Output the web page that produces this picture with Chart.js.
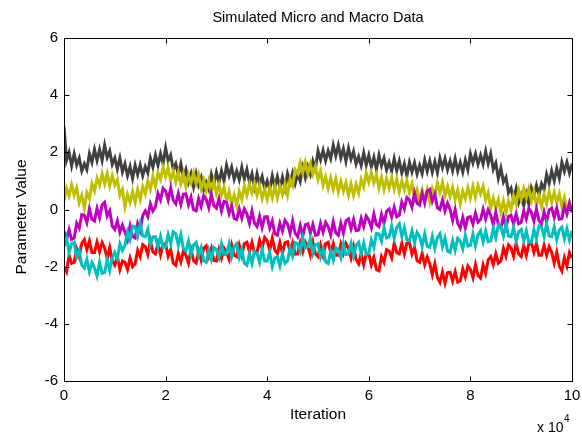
<!DOCTYPE html>
<html>
<head>
<meta charset="utf-8">
<script src="https://cdn.jsdelivr.net/npm/chart.js@4/dist/chart.umd.min.js"></script>
<style>
  body { margin: 0; background: #fff; }
  #wrap { width: 582px; height: 437px; }
</style>
</head>
<body>
<div id="wrap"><canvas id="chart" width="582" height="437"></canvas></div>
<script>
// one sample every 500 iterations, 0 .. 100000
const step = 500

const gray = [
  2.9,1.72,2.0,1.53, 1.95,1.55,1.8,1.35, 1.6,1.4,1.95,1.65, 2.1,1.72,2.1,1.72, 2.25,1.82,2.05,1.58,
  1.8,1.42,1.8,1.32, 1.6,1.18,1.5,1.08, 1.55,1.22,1.55,1.18, 1.5,1.28,1.8,1.48, 1.9,1.55,1.95,1.6,
  2.15,1.7,1.9,1.4, 1.6,1.22,1.6,1.12, 1.4,0.95,1.25,0.8, 1.25,0.86,1.12,0.69, 0.95,0.71,1.23,0.89,
  1.3,0.95,1.35,1.0, 1.55,1.19,1.48,1.06, 1.35,1.04,1.48,1.06, 1.4,0.95,1.25,0.8, 1.25,0.88,1.15,0.73,
  1.0,0.71,1.18,0.79, 1.15,0.76,1.13,0.74, 1.25,0.94,1.28,0.91, 1.25,0.99,1.48,1.11, 1.5,1.23,1.7,1.43,
  2.05,1.74,2.08,1.71, 2.05,1.78,2.25,1.88, 2.25,1.81,2.13,1.69, 2.15,1.76,2.03,1.59, 1.85,1.54,1.98,1.56,
  1.9,1.49,1.83,1.41, 1.9,1.53,1.8,1.38, 1.65,1.34,1.78,1.36, 1.7,1.28,1.6,1.18, 1.65,1.31,1.63,1.24,
  1.55,1.26,1.73,1.34, 1.7,1.31,1.68,1.29, 1.8,1.46,1.78,1.39, 1.7,1.36,1.78,1.34, 1.65,1.31,1.73,1.39,
  1.95,1.63,1.95,1.58, 1.9,1.59,2.03,1.61, 1.95,1.41,1.63,1.09, 1.45,0.96,1.13,0.59, 0.75,0.36,0.73,0.24,
  0.5,0.15,0.55,0.2, 0.75,0.48,0.85,0.53, 0.9,0.69,1.23,0.91, 1.35,1.01,1.43,1.09, 1.65,1.33,1.65,1.28,
  1.6
]

const yellow = [
  0.3,0.74,0.48,0.86, 0.5,0.76,0.23,0.49, 0.05,0.59,0.38,0.91, 0.65,1.1,0.85,1.25, 0.9,1.26,0.83,1.19,
  0.85,1.05,0.5,0.7, 0.1,0.53,0.25,0.63, 0.25,0.7,0.35,0.8, 0.55,1.0,0.7,1.15, 0.8,1.28,1.05,1.48,
  1.15,1.48,1.0,1.33, 0.95,1.3,0.9,1.25, 0.8,1.21,0.93,1.29, 0.9,1.21,0.73,1.04, 0.65,1.01,0.63,0.99,
  0.55,0.88,0.5,0.78, 0.3,0.64,0.18,0.51, 0.15,0.63,0.35,0.83, 0.5,0.89,0.58,0.91, 0.5,0.84,0.38,0.71,
  0.35,0.75,0.4,0.8, 0.4,0.81,0.53,0.89, 0.5,1.06,0.83,1.39, 1.25,1.64,1.28,1.66, 1.25,1.59,1.23,1.51,
  1.05,1.35,0.85,1.15, 0.75,1.11,0.71,1.07, 0.62,0.98,0.64,0.94, 0.5,0.89,0.49,0.88, 0.57,1.05,0.79,1.27,
  0.95,1.29,0.93,1.21, 0.75,1.13,0.7,1.08, 0.75,1.11,0.71,1.07, 0.62,1.0,0.69,1.02, 0.6,0.9,0.39,0.69,
  0.28,0.67,0.3,0.69, 0.27,0.74,0.51,0.93, 0.6,0.94,0.48,0.81, 0.45,0.78,0.35,0.68, 0.2,0.64,0.38,0.76,
  0.4,0.81,0.43,0.84, 0.55,0.81,0.33,0.59, 0.05,0.4,0.05,0.35, -0.1,0.3,-0.1,0.3, 0.0,0.48,0.2,0.68,
  0.35,0.73,0.4,0.73, 0.3,0.63,0.15,0.48, 0.1,0.53,0.2,0.63, 0.25,0.6,0.25,0.55, 0.1,0.42,-0.06,0.25,
  0.0
]

const magenta = [
  -0.75,-1.05,-0.7,-1.05, -1.0,-0.48,-0.65,-0.18, -0.2,-0.46,0.02,-0.34, -0.4,0.04,-0.28,0.16, 0.25,-0.23,-0.05,-0.58,
  -0.7,-0.4,-0.8,-0.55, -0.8,-1.06,-0.58,-0.94, -1.0,-0.49,-0.73,-0.21, -0.05,-0.25,0.2,-0.05, 0.1,0.56,0.33,0.74,
  0.65,0.33,0.75,0.33, 0.2,0.56,0.18,0.54, 0.55,0.16,0.43,-0.01, -0.05,0.38,0.1,0.48, 0.35,0.06,0.53,0.14,
  0.05,0.38,-0.05,0.28, 0.25,-0.14,0.12,-0.31, -0.35,0.02,-0.3,0.02, -0.15,-0.48,-0.05,-0.48, -0.6,-0.24,-0.63,-0.26,
  -0.25,-0.65,-0.4,-0.85, -0.9,-0.48,-0.75,-0.38, -0.5,-0.83,-0.4,-0.83, -0.95,-0.56,-0.93,-0.54, -0.5,-0.83,-0.52,-0.9,
  -0.88,-0.49,-0.79,-0.45, -0.6,-0.89,-0.43,-0.81, -0.9,-0.48,-0.82,-0.4, -0.33,-0.67,-0.35,-0.74, -0.72,-0.31,-0.6,-0.23,
  -0.37,-0.64,-0.16,-0.53, -0.6,-0.17,-0.49,-0.06, 0.02,-0.27,0.08,-0.26, -0.2,0.26,0.02,0.42, 0.33,0.08,0.57,0.22,
  0.16,0.57,0.23,0.64, 0.7,0.29,0.53,0.06, 0.0,0.33,-0.05,0.22, 0.0,-0.38,0.0,-0.48, -0.65,-0.28,-0.65,-0.28,
  -0.25,-0.51,-0.13,-0.44, -0.35,0.01,-0.33,-0.01, -0.2,-0.53,-0.1,-0.53, -0.65,-0.26,-0.63,-0.24, -0.2,-0.5,-0.15,-0.5,
  -0.45,-0.04,-0.33,0.04, -0.1,-0.41,0.02,-0.39, -0.5,-0.09,-0.43,-0.01, 0.05,-0.28,0.04,-0.34, -0.32,0.11,-0.16,0.22,
  -0.1
]

const cyan = [
  -1.3,-1.0,-1.5,-1.2, -1.15,-1.66,-1.43,-1.94, -2.05,-1.74,-2.18,-1.86, -2.05,-2.33,-1.85,-2.23, -2.2,-1.76,-2.13,-1.69,
  -1.5,-1.73,-1.2,-1.43, -1.25,-0.78,-1.05,-0.58, -0.6,-0.93,-0.5,-0.93, -0.95,-0.69,-1.23,-0.96, -0.95,-1.33,-0.95,-1.33,
  -1.3,-0.88,-1.2,-0.78, -0.85,-1.24,-0.88,-1.36, -1.45,-1.11,-1.58,-1.24, -1.15,-1.61,-1.33,-1.79, -1.85,-1.43,-1.75,-1.33,
  -1.4,-1.68,-1.2,-1.58, -1.55,-1.2,-1.65,-1.3, -1.2,-1.68,-1.4,-1.88, -1.95,-1.54,-1.88,-1.46, -1.55,-1.85,-1.4,-1.8,
  -1.8,-1.5,-2.0,-1.7, -1.65,-1.98,-1.55,-1.88, -1.8,-1.34,-1.63,-1.16, -1.2,-1.46,-0.98,-1.34, -1.3,-1.01,-1.53,-1.24,
  -1.2,-1.66,-1.37,-1.83, -1.89,-1.46,-1.77,-1.34, -1.4,-1.68,-1.2,-1.58, -1.55,-1.19,-1.63,-1.26, -1.15,-1.54,-1.17,-1.56,
  -1.54,-1.06,-1.32,-0.84, -0.85,-1.11,-0.63,-0.99, -0.95,-0.58,-1.0,-0.63, -0.5,-0.94,-0.63,-1.06, -1.1,-0.75,-1.15,-0.8,
  -0.95,-1.28,-0.86,-1.29, -1.32,-0.94,-1.36,-0.98, -0.85,-1.3,-1.0,-1.45, -1.5,-1.09,-1.43,-1.01, -1.1,-1.38,-0.9,-1.28,
  -1.25,-0.86,-1.28,-0.89, -0.75,-1.13,-0.75,-1.13, -1.1,-0.66,-0.98,-0.54, -0.6,-0.93,-0.5,-0.93, -0.95,-0.63,-1.1,-0.78,
  -0.7,-1.1,-0.75,-1.15, -1.15,-0.71,-1.01,-0.57, -0.62,-0.94,-0.51,-0.93, -0.95,-0.61,-1.06,-0.72, -0.62,-1.02,-0.67,-1.07,
  -0.75
]

const red = [
  -2.0,-2.18,-1.6,-1.88, -1.85,-1.38,-1.65,-1.18, -1.05,-1.4,-1.1,-1.5, -1.5,-1.14,-1.48,-1.16, -1.35,-1.71,-1.33,-1.79,
  -1.95,-1.65,-2.1,-1.8, -1.85,-2.1,-1.7,-2.0, -1.9,-1.43,-1.65,-1.23, -1.3,-1.58,-1.1,-1.48, -1.55,-1.19,-1.58,-1.21,
  -1.2,-1.63,-1.4,-1.88, -1.95,-1.54,-1.83,-1.46, -1.6,-1.88,-1.41,-1.79, -1.87,-1.45,-1.77,-1.35, -1.27,-1.64,-1.36,-1.78,
  -1.8,-1.4,-1.7,-1.35, -1.5,-1.75,-1.25,-1.6, -1.65,-1.25,-1.6,-1.2, -1.15,-1.48,-1.15,-1.53, -1.5,-1.08,-1.35,-0.98,
  -1.1,-1.42,-1.0,-1.42, -1.54,-1.16,-1.54,-1.16, -1.13,-1.47,-1.17,-1.56, -1.55,-1.16,-1.48,-1.14, -1.3,-1.6,-1.15,-1.55,
  -1.65,-1.25,-1.6,-1.2, -1.15,-1.5,-1.2,-1.6, -1.6,-1.21,-1.53,-1.19, -1.35,-1.7,-1.3,-1.75, -1.9,-1.54,-1.93,-1.56,
  -1.55,-1.94,-1.68,-2.11, -2.15,-1.65,-1.85,-1.4, -1.45,-1.69,-1.18,-1.51, -1.55,-1.18,-1.55,-1.18, -1.15,-1.56,-1.33,-1.79,
  -1.85,-1.54,-1.93,-1.66, -1.9,-2.28,-1.9,-2.38, -2.55,-2.19,-2.58,-2.21, -2.2,-2.51,-2.18,-2.54, -2.5,-2.08,-2.35,-1.98,
  -2.1,-2.39,-1.93,-2.31, -2.4,-1.94,-2.23,-1.76, -1.65,-1.93,-1.55,-1.88, -1.8,-1.36,-1.63,-1.24, -1.35,-1.64,-1.18,-1.56,
  -1.65,-1.25,-1.6,-1.2, -1.15,-1.5,-1.2,-1.6, -1.6,-1.25,-1.6,-1.3, -1.5,-1.88,-1.5,-1.98, -2.15,-1.69,-1.98,-1.51,
  -1.7
]

const xTicks = [0, 20000, 40000, 60000, 80000, 100000]
const yTicks = [-6, -4, -2, 0, 2, 4, 6]

const FONT = "'Liberation Sans', Arial, sans-serif"

const toPoints = (arr) => arr.map((v, i) => ({ x: i * step, y: v }))

const line = (label, arr, color, order) => ({
  label: label,
  data: toPoints(arr),
  borderColor: color,
  backgroundColor: color,
  borderWidth: 3,
  borderJoinStyle: 'miter',
  pointRadius: 0,
  tension: 0,
  fill: false,
  order: order,
})

// white background, axes box with inward ticks, titles
const matlabFrame = {
  id: 'matlabFrame',
  beforeDraw(chart) {
    const ctx = chart.ctx
    ctx.save()
    ctx.fillStyle = '#fff'
    ctx.fillRect(0, 0, chart.width, chart.height)
    ctx.restore()
  },
  afterDraw(chart) {
    const { ctx, chartArea: a, scales } = chart
    const L = Math.round(a.left) + 0.5
    const R = Math.round(a.right) + 0.5
    const T = Math.round(a.top) + 0.5
    const B = Math.round(a.bottom) + 0.5
    ctx.save()
    ctx.strokeStyle = '#000'
    ctx.lineWidth = 1
    ctx.strokeRect(L, T, R - L, B - T)
    ctx.beginPath()
    for (const v of xTicks) {
      const px = Math.round(scales.x.getPixelForValue(v)) + 0.5
      ctx.moveTo(px, B); ctx.lineTo(px, B - 5)
      ctx.moveTo(px, T); ctx.lineTo(px, T + 5)
    }
    for (const v of yTicks) {
      const py = Math.round(scales.y.getPixelForValue(v)) + 0.5
      ctx.moveTo(L, py); ctx.lineTo(L + 5, py)
      ctx.moveTo(R, py); ctx.lineTo(R - 5, py)
    }
    ctx.stroke()

    ctx.fillStyle = '#000'
    ctx.textAlign = 'center'
    ctx.textBaseline = 'middle'
    ctx.font = '14.5px ' + FONT
    ctx.fillText('Simulated Micro and Macro Data', (a.left + a.right) / 2, 18)
    ctx.font = '15.5px ' + FONT
    ctx.fillText('Iteration', (a.left + a.right) / 2, 415)

    ctx.save()
    ctx.translate(22, 217)
    ctx.rotate(-Math.PI / 2)
    ctx.fillText('Parameter Value', 0, 0)
    ctx.restore()

    ctx.textAlign = 'left'
    ctx.font = '14px ' + FONT
    ctx.fillText('x 10', 537, 428)
    ctx.font = '10px ' + FONT
    ctx.fillText('4', 564, 419)
    ctx.restore()
  },
}

const ctx = document.getElementById('chart').getContext('2d')

new Chart(ctx, {
  type: 'line',
  data: {
    datasets: [
      line('Series 1', gray, '#404040', 5),
      line('Series 2', red, '#ff0000', 4),
      line('Series 3', yellow, '#bfbf00', 3),
      line('Series 4', magenta, '#bf00bf', 2),
      line('Series 5', cyan, '#00bfbf', 1),
    ],
  },
  options: {
    responsive: false,
    animation: false,
    events: [],
    layout: { padding: { left: 0, right: 10, top: 38, bottom: 0 } },
    plugins: {
      legend: { display: false },
      tooltip: { enabled: false },
    },
    scales: {
      x: {
        type: 'linear',
        min: 0,
        max: 100000,
        afterFit: (s) => { s.height = 56; s.paddingLeft = 0; s.paddingRight = 0 },
        afterBuildTicks: (s) => { s.ticks = xTicks.map((v) => ({ value: v })) },
        grid: { display: false, drawTicks: false, tickLength: 0 },
        border: { display: false },
        ticks: {
          color: '#000',
          padding: 6,
          maxRotation: 0,
          font: { family: FONT, size: 15 },
          callback: (v) => String(v / 10000),
        },
      },
      y: {
        min: -6,
        max: 6,
        afterFit: (s) => { s.width = 64; s.paddingTop = 0; s.paddingBottom = 0 },
        afterBuildTicks: (s) => { s.ticks = yTicks.map((v) => ({ value: v })) },
        grid: { display: false, drawTicks: false, tickLength: 0 },
        border: { display: false },
        ticks: {
          color: '#000',
          padding: 6,
          font: { family: FONT, size: 15 },
        },
      },
    },
  },
  plugins: [matlabFrame],
})
</script>
</body>
</html>
